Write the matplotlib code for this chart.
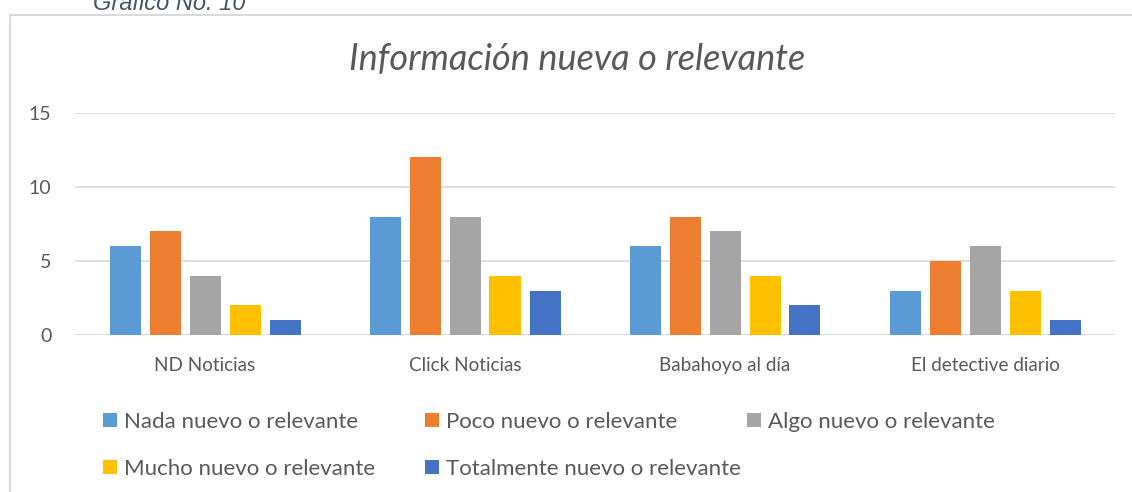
import matplotlib
matplotlib.use("Agg")
import matplotlib.pyplot as plt
import numpy as np
from matplotlib.patches import Rectangle

categories = ["ND Noticias", "Click Noticias", "Babahoyo al día", "El detective diario"]
series_names = ["Nada nuevo o relevante", "Poco nuevo o relevante", "Algo nuevo o relevante",
                "Mucho nuevo o relevante", "Totalmente nuevo o relevante"]
nada = [6, 8, 6, 3]
poco = [7, 12, 8, 5]
algo = [4, 8, 7, 6]
mucho = [2, 4, 4, 3]
totalmente = [1, 3, 2, 1]
yticks = [0, 5, 10, 15]

colors = ["#5B9BD5", "#ED7D31", "#A5A5A5", "#FFC000", "#4472C4"]
series = [nada, poco, algo, mucho, totalmente]

W, H = 1132, 492
fig = plt.figure(figsize=(W / 100, H / 100), dpi=100)
plt.rcParams['font.family'] = ['Lato', 'DejaVu Sans']

# chart border
fig.patches.append(Rectangle((10 / W, -0.2), 1.2, (H - 15) / H + 0.2, transform=fig.transFigure,
                             fill=False, edgecolor="#D9D9D9", linewidth=1.5, zorder=0))

fig.text(93 / W, (H - 10) / H, "Gráfico No. 10", fontsize=17, fontstyle='italic',
         family=['Liberation Sans'], color="#44546A", ha='left', va='baseline')

ax = fig.add_axes([75 / W, (H - 335) / H, (1115 - 75) / W, (335 - 113) / H])
x = np.arange(len(categories))
step = 40 / 260
width = 31 / 260
handles = []
for i, (vals, c, name) in enumerate(zip(series, colors, series_names)):
    b = ax.bar(x + (i - 2) * step, vals, width, color=c, label=name, zorder=3)
    handles.append(b)

ax.set_xlim(-0.5, len(categories) - 0.5)
ax.set_ylim(0, 15)
ax.set_yticks(yticks)
ax.yaxis.grid(True, color="#D9D9D9", linewidth=1.2, zorder=0)
for s in ax.spines.values():
    s.set_visible(False)
ax.tick_params(axis='both', length=0, labelsize=14, labelcolor="#595959")
ax.tick_params(axis='x', labelsize=13.6)
ax.tick_params(axis='y', pad=17)
ax.tick_params(axis='x', pad=16)
ax.set_xticks(x)
ax.set_xticklabels(categories)
ax.axhline(0, color="#D9D9D9", linewidth=1.2, zorder=2)

fig.text(577 / W, (H - 60) / H, "Información nueva o relevante", fontsize=26, fontstyle='italic',
         color="#595959", ha='center', va='center')

# legend: three equal-width columns, row-major order like the original
col_x = [103, 425, 747]
for k in range(3):
    idx = [j for j in (k, k + 3) if j < len(series_names)]
    fig.legend([handles[j] for j in idx], [series_names[j] for j in idx], ncol=1,
               loc='upper left', bbox_to_anchor=(col_x[k] / W, (H - 412) / H), frameon=False,
               fontsize=16, labelcolor="#595959", handlelength=0.63, handleheight=0.63,
               handletextpad=0.3, labelspacing=1.2, borderpad=0, borderaxespad=0)

fig.savefig("out.png", dpi=100)
